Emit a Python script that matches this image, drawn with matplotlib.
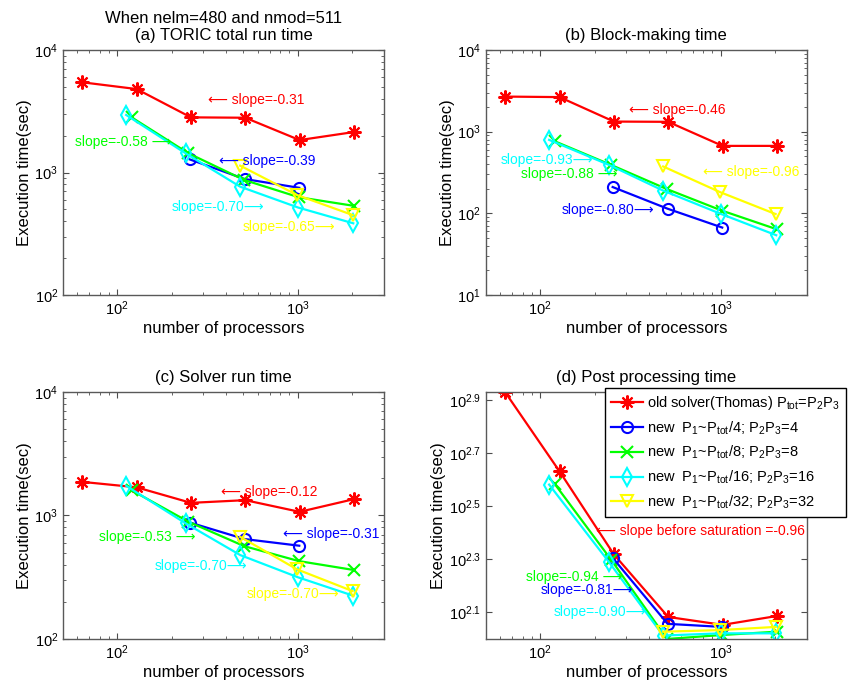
import matplotlib
matplotlib.use("Agg")
import matplotlib.pyplot as plt
from matplotlib.ticker import NullFormatter, NullLocator, FixedLocator, FixedFormatter

plt.rcParams["font.family"] = ["Liberation Sans", "DejaVu Sans"]
plt.rcParams["mathtext.fontset"] = "custom"
plt.rcParams["mathtext.rm"] = "Liberation Sans"
plt.rcParams["mathtext.it"] = "Liberation Sans:italic"
plt.rcParams["mathtext.default"] = "regular"

# number of processors for each solver configuration
p_old = [64, 128, 256, 512, 1024, 2048]
p_4 = [252, 508, 1020]
p_8 = [120, 248, 504, 1016, 2040]
p_16 = [112, 240, 480, 1008, 2032]
p_32 = [480, 992, 2016]

# (a) total run time
total_old = [5450, 4800, 2820, 2800, 1840, 2140]
total_4 = [1280, 885, 750]
total_8 = [2820, 1435, 870, 628, 535]
total_16 = [2950, 1430, 766, 517, 385]
total_32 = [1137, 655, 450]

# (b) block-making time
block_old = [2690, 2650, 1330, 1320, 670, 670]
block_4 = [210, 114, 67]
block_8 = [765, 390, 198, 108, 64]
block_16 = [794, 393, 190, 98, 54]
block_32 = [375, 182, 98]

# (c) solver run time
solver_old = [1870, 1690, 1265, 1330, 1070, 1355]
solver_4 = [877, 644, 569]
solver_8 = [1600, 889, 565, 427, 362]
solver_16 = [1738, 861, 478, 315, 224]
solver_32 = [671, 366, 244]

# (d) post processing time
post_old = [847, 427, 208, 121, 113, 122]
post_4 = [202, 114, 111]
post_8 = [384, 198, 100, 103.5, 106.5]
post_16 = [381, 195, 103, 105, 105]
post_32 = [106.5, 108, 111]

legend_labels = [
    "old solver(Thomas) P$_{tot}$=P$_2$P$_3$",
    "new  P$_1$~P$_{tot}$/4; P$_2$P$_3$=4",
    "new  P$_1$~P$_{tot}$/8; P$_2$P$_3$=8",
    "new  P$_1$~P$_{tot}$/16; P$_2$P$_3$=16",
    "new  P$_1$~P$_{tot}$/32; P$_2$P$_3$=32",
]

colors = ["#ff0000", "#0000ff", "#00ff00", "#00ffff", "#ffff00"]
markers = [(8, 2, 0), "o", "x", "d", "v"]
msizes = [10, 8, 8, 9, 9]

LA = "\u27f5"
RA = "\u27f6"

# slope annotations: (text, x, y, color index)
notes_a = [
    (LA + " slope=-0.31", 318, 3890, 0),
    ("slope=-0.58 " + RA, 58, 1766, 2),
    (LA + " slope=-0.39", 367, 1240, 1),
    ("slope=-0.70" + RA, 201, 520, 3),
    ("slope=-0.65" + RA, 497, 361, 4),
]
notes_b = [
    (LA + " slope=-0.46", 311, 1850, 0),
    ("slope=-0.93" + RA, 60, 452, 3),
    ("slope=-0.88 " + RA, 78, 302, 2),
    ("slope=-0.80" + RA, 132, 109, 1),
    (LA + " slope=-0.96", 803, 319, 4),
]
notes_c = [
    (LA + " slope=-0.12", 375, 1553, 0),
    (LA + " slope=-0.31", 833, 706, 1),
    ("slope=-0.53 " + RA, 79, 672, 2),
    ("slope=-0.70" + RA, 162, 389, 3),
    ("slope=-0.70" + RA, 520, 230, 4),
]
notes_d = [
    (LA + " slope before saturation =-0.96", 203, 254, 0),
    ("slope=-0.94 " + RA, 83, 171, 2),
    ("slope=-0.81" + RA, 100, 153, 1),
    ("slope=-0.90" + RA, 119, 126, 3),
]

procs = [p_old, p_4, p_8, p_16, p_32]
panels = [
    ("When nelm=480 and nmod=511\n(a) TORIC total run time",
     [total_old, total_4, total_8, total_16, total_32], (1e2, 1e4), notes_a),
    ("(b) Block-making time",
     [block_old, block_4, block_8, block_16, block_32], (1e1, 1e4), notes_b),
    ("(c) Solver run time",
     [solver_old, solver_4, solver_8, solver_16, solver_32], (1e2, 1e4), notes_c),
    ("(d) Post processing time",
     [post_old, post_4, post_8, post_16, post_32], (1e2, 850), notes_d),
]

rects = [
    [0.074, 0.5693, 0.377, 0.3577],
    [0.571, 0.5693, 0.377, 0.3577],
    [0.074, 0.0672, 0.377, 0.3606],
    [0.571, 0.0672, 0.377, 0.3606],
]

fig = plt.figure(figsize=(8.51, 6.85), dpi=100)

for k, (title, series, ylim, notes) in enumerate(panels):
    ax = fig.add_axes(rects[k])
    handles = []
    for i in range(5):
        (h,) = ax.plot(procs[i], series[i], color=colors[i], marker=markers[i],
                       ms=msizes[i], mfc="none", mew=1.5, lw=1.6)
        handles.append(h)
    ax.set_xscale("log")
    ax.set_yscale("log")
    ax.set_xlim(50, 3000)
    ax.set_ylim(*ylim)
    ax.xaxis.set_minor_formatter(NullFormatter())
    ax.yaxis.set_minor_formatter(NullFormatter())
    if k == 3:
        yt = [10 ** 2.1, 10 ** 2.3, 10 ** 2.5, 10 ** 2.7, 10 ** 2.9]
        ax.yaxis.set_major_locator(FixedLocator(yt))
        ax.yaxis.set_major_formatter(FixedFormatter(
            ["$10^{2.1}$", "$10^{2.3}$", "$10^{2.5}$", "$10^{2.7}$", "$10^{2.9}$"]))
        ax.yaxis.set_minor_locator(NullLocator())
    ax.tick_params(which="both", direction="in", top=True, right=True,
                   labelsize=10.5, color="0.3")
    ax.tick_params(which="major", length=4)
    ax.tick_params(which="minor", length=2)
    for s in ax.spines.values():
        s.set_color("0.35")
        s.set_linewidth(1.0)
    ax.set_title(title, fontsize=12, pad=7)
    ax.set_xlabel("number of processors", fontsize=12, labelpad=2)
    ax.set_ylabel("Execution time(sec)", fontsize=12, labelpad=2)
    for txt, x, y, ci in notes:
        ax.text(x, y, txt, color=colors[ci], fontsize=10, ha="left",
                va="center", clip_on=False)
    if k == 3:
        leg = ax.legend(handles, legend_labels, loc="upper left",
                        bbox_to_anchor=(0.3716, 1.015), fontsize=10.5,
                        fancybox=False, framealpha=1, edgecolor="k",
                        borderaxespad=0, handlelength=2.2, handletextpad=0.3,
                        labelspacing=0.5, borderpad=0.4)
        leg.get_frame().set_linewidth(1.0)

fig.savefig("out.png", dpi=100)
